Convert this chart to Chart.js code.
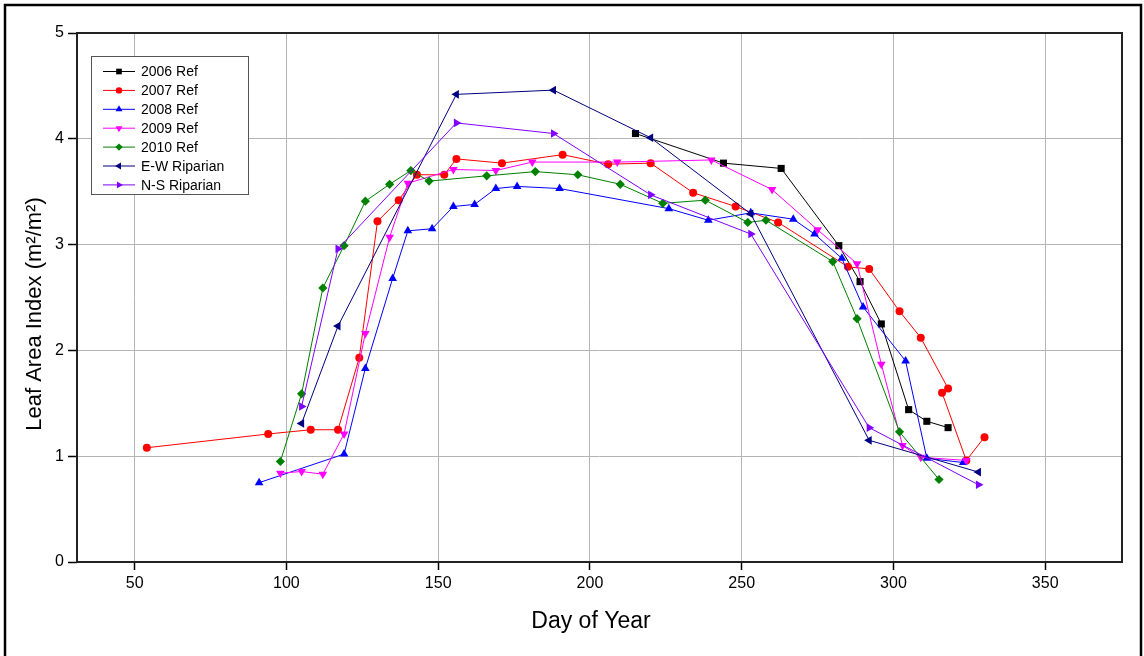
<!DOCTYPE html>
<html>
<head>
<meta charset="utf-8">
<script src="https://cdn.jsdelivr.net/npm/chart.js@4/dist/chart.umd.min.js"></script>
<style>
  html, body { margin: 0; padding: 0; background: #fff; }
  #wrap { position: relative; width: 1144px; height: 656px; }
</style>
</head>
<body>
<div id="wrap"><canvas id="lai" width="1144" height="656"></canvas></div>
<script>
// Leaf area index by day of year, per reference year and riparian site
const days2006 = [215, 244, 263, 282, 289, 296, 305, 311, 318];
const lai2006  = [4.05, 3.77, 3.72, 2.99, 2.65, 2.25, 1.44, 1.33, 1.27];

const days2007 = [54, 94, 108, 117, 124, 130, 137, 143, 152, 156, 171, 191, 206, 220, 234, 248, 262, 285, 292, 302, 309, 318, 316, 324, 330];
const lai2007  = [1.08, 1.21, 1.25, 1.25, 1.93, 3.22, 3.42, 3.66, 3.66, 3.81, 3.77, 3.85, 3.76, 3.77, 3.49, 3.36, 3.21, 2.79, 2.77, 2.37, 2.12, 1.64, 1.60, 0.96, 1.18];

const days2008 = [91, 119, 126, 135, 140, 148, 155, 162, 169, 176, 190, 226, 239, 253, 267, 274, 283, 290, 304, 311, 323];
const lai2008  = [0.75, 1.02, 1.83, 2.68, 3.13, 3.15, 3.36, 3.38, 3.53, 3.55, 3.53, 3.34, 3.23, 3.30, 3.24, 3.10, 2.87, 2.41, 1.90, 0.98, 0.94];

const days2009 = [98, 105, 112, 119, 126, 134, 140, 155, 169, 181, 209, 240, 260, 275, 288, 296, 303, 309, 324];
const lai2009  = [0.84, 0.855, 0.83, 1.21, 2.16, 3.07, 3.58, 3.71, 3.70, 3.78, 3.78, 3.80, 3.52, 3.14, 2.82, 1.87, 1.10, 0.99, 0.96];

const days2010 = [98, 105, 112, 119, 126, 134, 141, 147, 166, 182, 196, 210, 224, 238, 252, 258, 280, 288, 302, 315];
const lai2010  = [0.95, 1.59, 2.59, 2.99, 3.41, 3.57, 3.70, 3.60, 3.65, 3.69, 3.66, 3.57, 3.39, 3.42, 3.21, 3.23, 2.84, 2.30, 1.23, 0.78];

const daysEW = [105, 117, 156, 188, 220, 253, 292, 328];
const laiEW  = [1.31, 2.23, 4.42, 4.46, 4.01, 3.29, 1.15, 0.85];

const daysNS = [105, 117, 156, 188, 220, 253, 292, 328];
const laiNS  = [1.47, 2.96, 4.15, 4.05, 3.47, 3.10, 1.27, 0.73];

const seriesNames = ['2006 Ref', '2007 Ref', '2008 Ref', '2009 Ref', '2010 Ref', 'E-W Riparian', 'N-S Riparian'];
const xTicks = [50, 100, 150, 200, 250, 300, 350];
const yTicks = [0, 1, 2, 3, 4, 5];
const xTitle = 'Day of Year';
const yTitle = 'Leaf Area Index (m²/m²)';

const FONT = '"Liberation Sans", Arial, sans-serif';

function pts(xs, ys) { return xs.map((x, i) => ({ x: x, y: ys[i] })); }

const styles = [
  { color: '#000000', pointStyle: 'rect',     radius: 5,   rotation: 0 },
  { color: '#ff0000', pointStyle: 'circle',   radius: 4,   rotation: 0 },
  { color: '#0000ff', pointStyle: 'triangle', radius: 5,   rotation: 0 },
  { color: '#ff00ff', pointStyle: 'triangle', radius: 5,   rotation: 180 },
  { color: '#008000', pointStyle: 'rectRot',  radius: 4.6, rotation: 0 },
  { color: '#000080', pointStyle: 'triangle', radius: 5,   rotation: 270 },
  { color: '#8000ff', pointStyle: 'triangle', radius: 5,   rotation: 90 }
];

const seriesData = [
  pts(days2006, lai2006), pts(days2007, lai2007), pts(days2008, lai2008),
  pts(days2009, lai2009), pts(days2010, lai2010), pts(daysEW, laiEW), pts(daysNS, laiNS)
];

const datasets = seriesData.map((d, i) => ({
  label: seriesNames[i],
  data: d,
  borderColor: styles[i].color,
  backgroundColor: styles[i].color,
  borderWidth: 1,
  pointStyle: styles[i].pointStyle,
  pointRadius: styles[i].radius,
  pointRotation: styles[i].rotation,
  pointBorderWidth: 0,
  pointBackgroundColor: styles[i].color,
  pointBorderColor: styles[i].color,
  tension: 0,
  order: seriesNames.length - i
}));

// white page, outer frame, plot border, axis titles and boxed legend
const framePlugin = {
  id: 'frame',
  beforeDraw(chart) {
    const c = chart.ctx;
    c.save();
    c.fillStyle = '#fff';
    c.fillRect(0, 0, chart.width, chart.height);
    c.restore();
  },
  afterDraw(chart) {
    const c = chart.ctx;
    const a = chart.chartArea;
    c.save();
    // outer frame (open at the bottom)
    c.strokeStyle = '#000';
    c.lineWidth = 2.5;
    c.beginPath();
    c.moveTo(5, 660);
    c.lineTo(5, 5);
    c.lineTo(1141, 5);
    c.lineTo(1141, 660);
    c.stroke();
    // plot border
    c.strokeStyle = '#222';
    c.lineWidth = 2;
    c.strokeRect(a.left, a.top, a.right - a.left, a.bottom - a.top);

    // axis titles
    c.fillStyle = '#000';
    c.textAlign = 'center';
    c.textBaseline = 'middle';
    c.font = '23px ' + FONT;
    c.fillText(xTitle, 591, 622);
    c.save();
    c.translate(35, 314);
    c.rotate(-Math.PI / 2);
    c.font = '22px ' + FONT;
    c.fillText(yTitle, 0, 0);
    c.restore();

    // legend
    const lx = 91, ly = 56, lw = 157, lh = 138;
    c.fillStyle = '#fff';
    c.fillRect(lx, ly, lw, lh);
    c.strokeStyle = '#555';
    c.lineWidth = 1;
    c.strokeRect(lx + 0.5, ly + 0.5, lw, lh);
    c.font = '14px ' + FONT;
    c.textBaseline = 'middle';
    c.textAlign = 'left';
    chart.data.datasets.forEach((ds, i) => {
      const y = 71.5 + i * 18.9;
      c.strokeStyle = ds.borderColor;
      c.lineWidth = 1;
      c.beginPath();
      c.moveTo(103, y);
      c.lineTo(135, y);
      c.stroke();
      c.fillStyle = ds.pointBackgroundColor;
      Chart.helpers.drawPoint(c, {
        pointStyle: ds.pointStyle,
        rotation: ds.pointRotation,
        radius: ds.pointRadius * 0.8,
        borderWidth: 0
      }, 119, y);
      c.fillStyle = '#000';
      c.fillText(ds.label, 141, y + 1);
    });
    c.restore();
  }
};

new Chart(document.getElementById('lai'), {
  type: 'line',
  data: { datasets: datasets },
  plugins: [framePlugin],
  options: {
    responsive: false,
    animation: false,
    devicePixelRatio: 1,
    layout: { padding: { left: 0, right: 22, top: 33, bottom: 0 } },
    plugins: { legend: { display: false }, tooltip: { enabled: false } },
    scales: {
      x: {
        type: 'linear',
        min: 31,
        max: 375.3,
        afterBuildTicks(scale) { scale.ticks = xTicks.map(v => ({ value: v })); },
        afterFit(scale) { scale.height = 94; },
        grid: { color: '#b4b4b4', lineWidth: 1, tickColor: '#000', tickLength: 8, tickWidth: 1.5 },
        border: { display: false },
        ticks: { color: '#000', font: { family: FONT, size: 16 }, padding: 4, maxRotation: 0 },
        title: { display: false }
      },
      y: {
        type: 'linear',
        min: 0,
        max: 5,
        afterBuildTicks(scale) { scale.ticks = yTicks.map(v => ({ value: v })); },
        afterFit(scale) { scale.width = 77; },
        grid: { color: '#b4b4b4', lineWidth: 1, tickColor: '#000', tickLength: 9, tickWidth: 1.5 },
        border: { display: false },
        ticks: { color: '#000', font: { family: FONT, size: 16 }, padding: 4 },
        title: { display: false }
      }
    }
  }
});
</script>
</body>
</html>
